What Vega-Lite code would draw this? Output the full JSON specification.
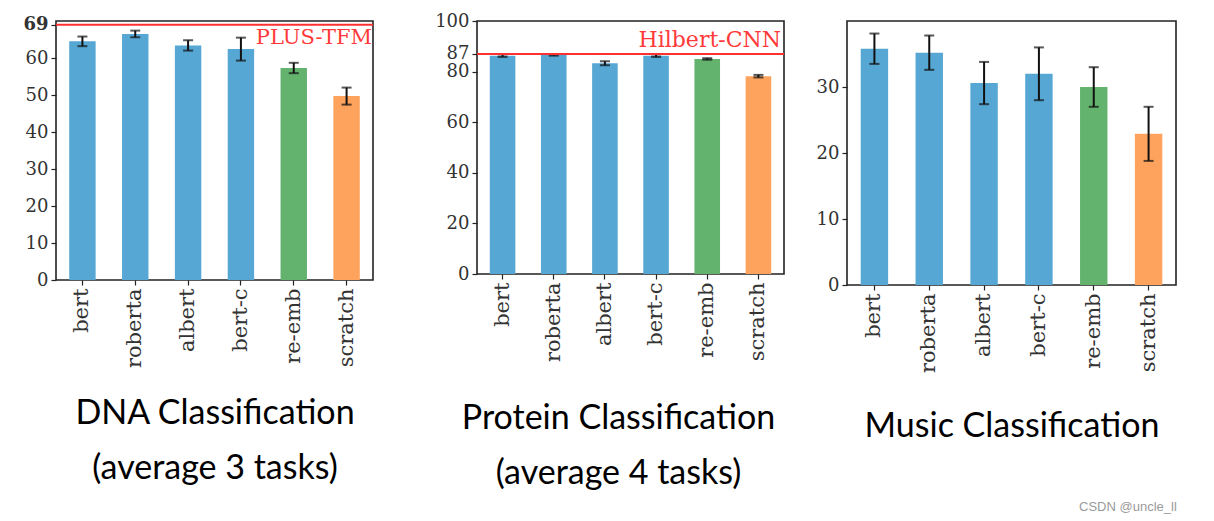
{
  "$schema": "https://vega.github.io/schema/vega-lite/v6.json",
  "padding": {"left": 5, "top": 11, "right": 5, "bottom": 5},
  "background": "white",
  "spacing": 20,
  "align": "none",
  "title": {"text": "CSDN @uncle_ll", "orient": "bottom", "anchor": "end", "fontSize": 13, "color": "#9a9a9a", "font": "Liberation Sans", "fontWeight": "normal", "offset": 10},
  "config": {
    "view": {"stroke": "#222", "strokeWidth": 1.6},
    "axis": {"grid": false, "domain": false, "tickColor": "#222", "tickSize": 5, "tickWidth": 1.2, "labelFont": "DejaVu Serif", "labelColor": "#333", "labelOverlap": false, "titleFont": "Lato", "titleFontWeight": "normal", "titleColor": "#000", "titleFontSize": 34, "titleLineHeight": 55},
    "axisX": {"labelAngle": -90, "labelFontSize": 21, "labelPadding": 3, "bandPosition": 0.5},
    "axisY": {"labelFontSize": 18, "labelPadding": 3, "labelOverlap": false}
  },
  "hconcat": [
    {
      "width": 317,
      "height": 259,
      "data": {"values": [
        {"model": "bert", "group": "pre", "score": 64.5, "err": 1.3},
        {"model": "roberta", "group": "pre", "score": 66.5, "err": 0.9},
        {"model": "albert", "group": "pre", "score": 63.4, "err": 1.4},
        {"model": "bert-c", "group": "pre", "score": 62.4, "err": 3.1},
        {"model": "re-emb", "group": "re", "score": 57.3, "err": 1.4},
        {"model": "scratch", "group": "scratch", "score": 49.7, "err": 2.3}
      ]},
      "layer": [
        {
          "mark": {"type": "bar"},
          "encoding": {
            "x": {"field": "model", "type": "nominal", "sort": null, "scale": {"paddingInner": 0.5, "paddingOuter": 0.25},
                  "axis": {"title": ["DNA Classification", "(average 3 tasks)"], "titlePadding": 29}},
            "y": {"field": "score", "type": "quantitative", "scale": {"domain": [0, 70], "nice": false},
                  "axis": {"title": null, "values": [0, 10, 20, 30, 40, 50, 60, 69], "minExtent": 50, "labelOverlap": false,
                           "labelFontWeight": {"condition": {"test": "datum.value == 69", "value": "bold"}, "value": "normal"}}},
            "color": {"field": "group", "type": "nominal", "scale": {"domain": ["pre", "re", "scratch"], "range": ["#57a7d4", "#63b26e", "#fea35e"]}, "legend": null}
          }
        },
        {
          "mark": {"type": "errorbar", "ticks": {"size": 10, "thickness": 2, "color": "#111"}, "rule": {"strokeWidth": 2, "color": "#111"}},
          "encoding": {
            "x": {"field": "model", "type": "nominal", "sort": null},
            "y": {"field": "score", "type": "quantitative", "scale": {"domain": [0, 70], "nice": false},
                  "axis": {"title": null, "values": [0, 10, 20, 30, 40, 50, 60, 69], "minExtent": 50, "labelOverlap": false,
                           "labelFontWeight": {"condition": {"test": "datum.value == 69", "value": "bold"}, "value": "normal"}}},
            "yError": {"field": "err"}
          }
        },
        {
          "data": {"values": [{"label": "PLUS-TFM", "v": 69}]},
          "layer": [
            {"mark": {"type": "rule", "color": "#ff3030", "strokeWidth": 2},
             "encoding": {"y": {"field": "v", "type": "quantitative", "axis": {"title": null, "values": [0, 10, 20, 30, 40, 50, 60, 69], "minExtent": 50, "labelOverlap": false,
                           "labelFontWeight": {"condition": {"test": "datum.value == 69", "value": "bold"}, "value": "normal"}}}}},
            {"mark": {"type": "text", "align": "right", "baseline": "top", "dx": -1, "dy": 2, "font": "DejaVu Serif", "fontSize": 21, "color": "#ff3a3a"},
             "encoding": {"x": {"value": "width"}, "y": {"field": "v", "type": "quantitative", "axis": {"title": null, "values": [0, 10, 20, 30, 40, 50, 60, 69], "minExtent": 50, "labelOverlap": false,
                           "labelFontWeight": {"condition": {"test": "datum.value == 69", "value": "bold"}, "value": "normal"}}}, "text": {"field": "label"}}}
          ]
        }
      ]
    },
    {
      "width": 307,
      "height": 253,
      "data": {"values": [
        {"model": "bert", "group": "pre", "score": 86.3, "err": 0.5},
        {"model": "roberta", "group": "pre", "score": 86.6, "err": 0.3},
        {"model": "albert", "group": "pre", "score": 83.3, "err": 0.8},
        {"model": "bert-c", "group": "pre", "score": 86.3, "err": 0.5},
        {"model": "re-emb", "group": "re", "score": 85.0, "err": 0.3},
        {"model": "scratch", "group": "scratch", "score": 78.2, "err": 0.5}
      ]},
      "layer": [
        {
          "mark": {"type": "bar"},
          "encoding": {
            "x": {"field": "model", "type": "nominal", "sort": null, "scale": {"paddingInner": 0.5, "paddingOuter": 0.25},
                  "axis": {"title": ["Protein Classification", "(average 4 tasks)"], "titlePadding": 40, "titleX": 141}},
            "y": {"field": "score", "type": "quantitative", "scale": {"domain": [0, 100], "nice": false},
                  "axis": {"title": null, "values": [0, 20, 40, 60, 80, 87, 100], "minExtent": 81, "labelOverlap": false}},
            "color": {"field": "group", "type": "nominal", "scale": {"domain": ["pre", "re", "scratch"], "range": ["#57a7d4", "#63b26e", "#fea35e"]}, "legend": null}
          }
        },
        {
          "mark": {"type": "errorbar", "ticks": {"size": 10, "thickness": 2, "color": "#111"}, "rule": {"strokeWidth": 2, "color": "#111"}},
          "encoding": {
            "x": {"field": "model", "type": "nominal", "sort": null},
            "y": {"field": "score", "type": "quantitative"},
            "yError": {"field": "err"}
          }
        },
        {
          "data": {"values": [{"label": "Hilbert-CNN", "v": 87}]},
          "layer": [
            {"mark": {"type": "rule", "color": "#ff3030", "strokeWidth": 2}, "encoding": {"y": {"field": "v", "type": "quantitative"}}},
            {"mark": {"type": "text", "align": "right", "baseline": "bottom", "dx": -3, "dy": -2, "font": "DejaVu Serif", "fontSize": 22, "color": "#ff3a3a"},
             "encoding": {"x": {"value": "width"}, "y": {"field": "v", "type": "quantitative"}, "text": {"field": "label"}}}
          ]
        }
      ]
    },
    {
      "width": 329,
      "height": 264,
      "data": {"values": [
        {"model": "bert", "group": "pre", "score": 35.8, "err": 2.3},
        {"model": "roberta", "group": "pre", "score": 35.2, "err": 2.6},
        {"model": "albert", "group": "pre", "score": 30.6, "err": 3.2},
        {"model": "bert-c", "group": "pre", "score": 32.0, "err": 4.0},
        {"model": "re-emb", "group": "re", "score": 30.0, "err": 3.0},
        {"model": "scratch", "group": "scratch", "score": 22.9, "err": 4.1}
      ]},
      "layer": [
        {
          "mark": {"type": "bar"},
          "encoding": {
            "x": {"field": "model", "type": "nominal", "sort": null, "scale": {"paddingInner": 0.5, "paddingOuter": 0.25},
                  "axis": {"title": "Music Classification", "titlePadding": 37}},
            "y": {"field": "score", "type": "quantitative", "scale": {"domain": [0, 40], "nice": false},
                  "axis": {"title": null, "values": [0, 10, 20, 30], "minExtent": 40, "labelOverlap": false}},
            "color": {"field": "group", "type": "nominal", "scale": {"domain": ["pre", "re", "scratch"], "range": ["#57a7d4", "#63b26e", "#fea35e"]}, "legend": null}
          }
        },
        {
          "mark": {"type": "errorbar", "ticks": {"size": 10, "thickness": 2, "color": "#111"}, "rule": {"strokeWidth": 2, "color": "#111"}},
          "encoding": {
            "x": {"field": "model", "type": "nominal", "sort": null},
            "y": {"field": "score", "type": "quantitative"},
            "yError": {"field": "err"}
          }
        }
      ]
    }
  ]
}
